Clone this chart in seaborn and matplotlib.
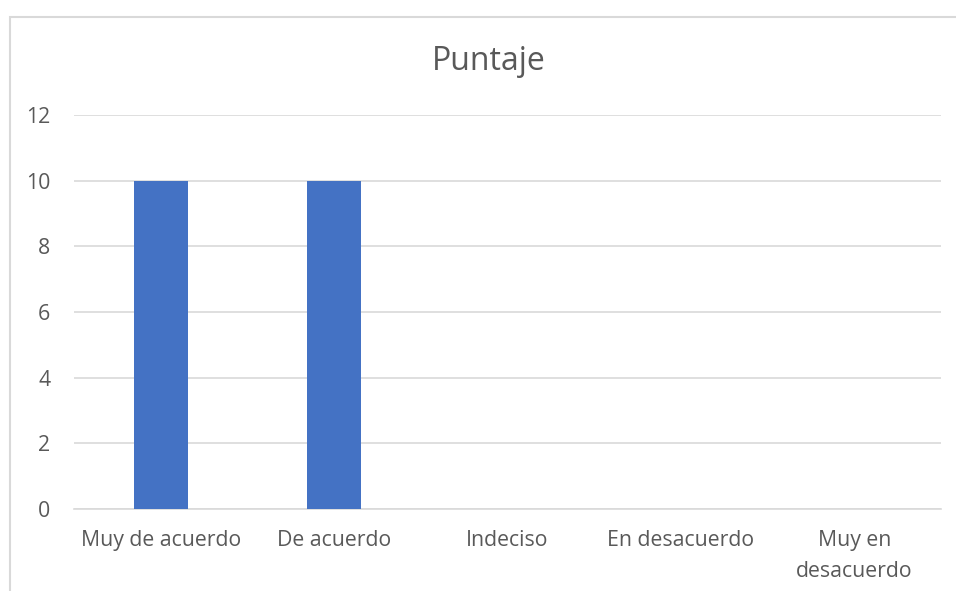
import matplotlib
matplotlib.use("Agg")
import matplotlib.pyplot as plt
import seaborn as sns
import pandas as pd
from matplotlib.patches import Rectangle

categories = ["Muy de acuerdo", "De acuerdo", "Indeciso", "En desacuerdo", "Muy en\ndesacuerdo"]
values = [10, 10, 0, 0, 0]
yticks = [0, 2, 4, 6, 8, 10, 12]
title = "Puntaje"

sns.set_theme(style="white")
plt.rcParams['font.family'] = ['Open Sans', 'DejaVu Sans']

W, H = 956, 591
fig = plt.figure(figsize=(W/100, H/100), dpi=100)
ax = fig.add_axes([74/W, 1-509/H, (941-74)/W, (509-115)/H])

df = pd.DataFrame({"cat": categories, "val": values})
sns.barplot(data=df, x="cat", y="val", color="#4472C4", saturation=1, width=0.31,
            linewidth=0, ax=ax, zorder=3)

ax.set_ylim(0, 12)
ax.set_xlim(-0.5, 4.5)
ax.set_yticks(yticks)
ax.set_yticklabels([str(t) for t in yticks])
ax.yaxis.grid(True, color="#D9D9D9", linewidth=1.2, zorder=0)
ax.set_axisbelow(True)
for s in ["top", "right", "left"]:
    ax.spines[s].set_visible(False)
ax.spines["bottom"].set_color("#D9D9D9")
ax.spines["bottom"].set_linewidth(1.2)
ax.set_xlabel("")
ax.set_ylabel("")
ax.tick_params(axis="both", length=0, labelsize=15.3, labelcolor="#595959")
ax.tick_params(axis="x", pad=15)
ax.tick_params(axis="y", pad=17)
for lbl in ax.get_xticklabels():
    lbl.set_linespacing(1.65)

fig.text(489/W, 1-61/H, title, ha="center", va="center", fontsize=23, color="#595959")

fig.patches.append(Rectangle((9.5/W, -0.05), 1.2, 1-16.5/H+0.05, transform=fig.transFigure,
                             fill=False, edgecolor="#D9D9D9", linewidth=1.5))

fig.savefig("out.png", dpi=100)
